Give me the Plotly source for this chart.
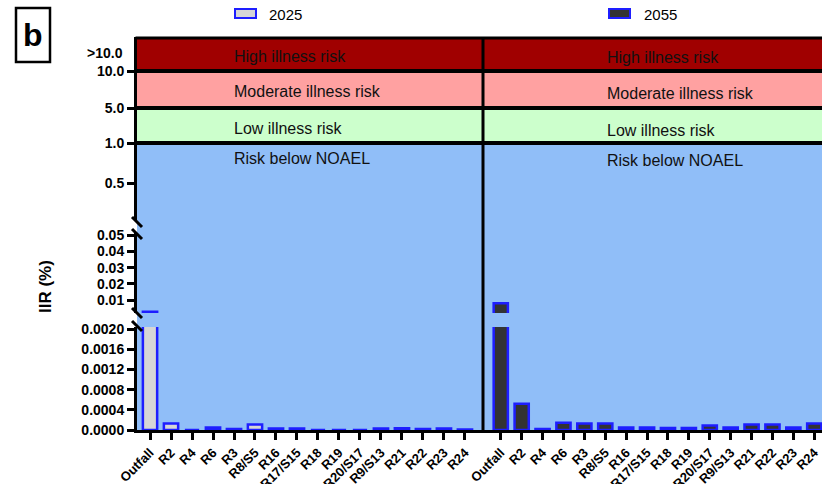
import plotly.graph_objects as go

# ---------------- data ----------------
categories = ["Outfall", "R2", "R4", "R6", "R3", "R8/S5", "R16", "R17/S15", "R18",
              "R19", "R20/S17", "R9/S13", "R21", "R22", "R23", "R24"]
iir_2025 = [0.0028, 0.00013, 0.0, 0.00005, 0.00002, 0.00011, 0.00003, 0.00003, 0.0,
            0.0, 0.0, 0.00003, 0.000035, 0.00002, 0.00003, 0.00001]
iir_2055 = [0.0080, 0.00052, 0.00002, 0.000145, 0.00013, 0.00013, 0.00005, 0.00005,
            0.00004, 0.00004, 0.00009, 0.00005, 0.00011, 0.00011, 0.00005, 0.00013]
series_names = ["2025", "2055"]

ticks_low = [0.0, 0.0004, 0.0008, 0.0012, 0.0016, 0.0020]
ticks_mid = [0.01, 0.02, 0.03, 0.04, 0.05]
ticks_upper = [0.5, 1.0]
band_labels = ["High illness risk", "Moderate illness risk", "Low illness risk", "Risk below NOAEL"]

# ---------------- geometry (pixels) ----------------
W, H = 822, 484
L, R, T, B = 137, 0, 37, 54
PW, PH = W - L - R, H - T - B
BOT = H - B  # 430


def fx(px):
    return (px - L) / PW


def fy(py):
    return (BOT - py) / PH


FONT = "Liberation Sans, Arial, sans-serif"
BLUE_EDGE = "#1E1EFF"
FILL_2025 = "#D6D6D6"
FILL_2055 = "#333333"
BG_BLUE = "#90BEF8"
BG_GREEN = "#CCFFCC"
BG_PINK = "#FFA1A1"
BG_RED = "#A00000"

EPS = 1e-9
# segment A: 0 .. ~0.00204 (pixels 430 -> 327)
scaleA = (BOT - 329) / 0.002
rangeA = [0, (BOT - 327) / scaleA]
# segment B: pixels 313 -> 233, 0.01 at y=300
scaleB = 1620.0
rangeB = [0.01 - (313 - 300) / scaleB, 0.01 + (300 - 233) / scaleB]
# segment C: pixels 221 -> 143, 1.0 at 143, 80 px per unit
rangeC = [1.0 - (221 - 143) / 80.0, 1.0 + EPS]

fig = go.Figure()

panels = [("x", iir_2025, FILL_2025, series_names[0]), ("x2", iir_2055, FILL_2055, series_names[1])]
for xa, vals, fill, name in panels:
    for ya in ["y", "y2"]:
        fig.add_trace(go.Bar(
            x=categories, y=vals, xaxis=xa, yaxis=ya, name=name,
            width=0.68, showlegend=False, hoverinfo="skip",
            marker=dict(color=fill, line=dict(color=BLUE_EDGE, width=2.5)),
        ))

# empty traces so that the upper axis segments are drawn
for ya in ["y3", "y4", "y5", "y6"]:
    fig.add_trace(go.Scatter(x=[], y=[], xaxis="x", yaxis=ya, showlegend=False,
                             hoverinfo="skip", mode="markers"))

tickfont = dict(family=FONT, size=14, color="black", weight="bold")
axis_common = dict(showline=True, linecolor="black", linewidth=3, ticks="outside",
                   ticklen=7, tickwidth=3, tickcolor="black", showgrid=False,
                   zeroline=False, fixedrange=True)

xcommon = dict(axis_common, type="category", categoryorder="array", categoryarray=categories,
               tickangle=-45, tickfont=dict(family=FONT, size=13, color="black", weight="bold"),
               anchor="y")

split = fx(483)
fig.update_layout(
    width=W, height=H,
    margin=dict(l=L, r=R, t=T, b=B, autoexpand=False),
    paper_bgcolor="white", plot_bgcolor="rgba(0,0,0,0)",
    barmode="overlay", showlegend=False,
    xaxis=dict(xcommon, domain=[0, split], range=[-0.62, 15.86]),
    xaxis2=dict(xcommon, domain=[split, 1], range=[-0.85, 15.37]),
    yaxis=dict(axis_common, domain=[0, fy(327)], range=rangeA, anchor="x",
               tickvals=ticks_low, tickformat=".4f", tickfont=tickfont),
    yaxis2=dict(axis_common, domain=[fy(313), fy(233)], range=rangeB, anchor="x",
                tickvals=ticks_mid, tickformat=".2f", tickfont=tickfont),
    yaxis3=dict(axis_common, domain=[fy(221), fy(143)], range=rangeC, anchor="x",
                tickvals=ticks_upper, tickformat=".1f", tickfont=tickfont),
    yaxis4=dict(axis_common, domain=[fy(143), fy(108)], range=[1, 5 + EPS], anchor="x",
                tickvals=[5.0], tickformat=".1f", tickfont=tickfont),
    yaxis5=dict(axis_common, domain=[fy(108), fy(71)], range=[5, 10 + EPS], anchor="x",
                tickvals=[10.0], tickformat=".1f", tickfont=tickfont),
    yaxis6=dict(axis_common, domain=[fy(71), 1], range=[10, 15], anchor="x",
                tickvals=[], ticks=""),
)

shapes = []
# background risk bands
for y0, y1, col in [(BOT, 143, BG_BLUE), (143, 108, BG_GREEN), (108, 71, BG_PINK), (71, T, BG_RED)]:
    shapes.append(dict(type="rect", xref="paper", yref="paper", x0=0, x1=1, y0=fy(y0), y1=fy(y1),
                       fillcolor=col, line=dict(width=0), layer="below"))
# band separators and border
for yy, w in [(143, 4), (108, 4), (71, 4), (T + 1, 3)]:
    shapes.append(dict(type="line", xref="paper", yref="paper", x0=fx(L - 1.5), x1=1, y0=fy(yy), y1=fy(yy),
                       line=dict(color="black", width=w)))
# panel divider
shapes.append(dict(type="line", xref="paper", yref="paper", x0=split, x1=split, y0=fy(BOT), y1=fy(T),
                   line=dict(color="black", width=3)))
# axis break marks
for (xa0, ya0, xa1, ya1) in [(132, 217, 142, 227), (132, 229, 142, 239),
                             (132, 308, 142, 318), (132, 321, 142, 331)]:
    shapes.append(dict(type="line", xref="paper", yref="paper", x0=fx(xa0), y0=fy(ya0),
                       x1=fx(xa1), y1=fy(ya1), line=dict(color="black", width=3)))
# panel label box
shapes.append(dict(type="rect", xref="paper", yref="paper", x0=fx(16), x1=fx(50), y0=fy(8), y1=fy(62),
                   line=dict(color="black", width=2.5), fillcolor="white"))
# legend symbols
for x0, fill in [(235, FILL_2025), (609, FILL_2055)]:
    shapes.append(dict(type="rect", xref="paper", yref="paper", x0=fx(x0), x1=fx(x0 + 21),
                       y0=fy(9), y1=fy(18), fillcolor=fill, line=dict(color=BLUE_EDGE, width=2)))

annotations = []
band_y_left = [56, 91, 128, 158]
band_y_right = [57, 93, 130, 160]
for lab, yl, yr in zip(band_labels, band_y_left, band_y_right):
    for xpix, ypix in [(232, yl), (605, yr)]:
        annotations.append(dict(text=lab, xref="paper", yref="paper", x=fx(xpix), y=fy(ypix),
                                xanchor="left", yanchor="middle", showarrow=False,
                                font=dict(family=FONT, size=16, color="#111111")))
annotations.append(dict(text=">10.0", xref="paper", yref="paper", x=fx(125), y=fy(53),
                        xanchor="right", yanchor="middle", showarrow=False, font=tickfont))
annotations.append(dict(text="IIR (%)", xref="paper", yref="paper", x=fx(45), y=fy(287),
                        xanchor="center", yanchor="middle", textangle=-90, showarrow=False,
                        font=dict(family=FONT, size=17, color="black", weight="bold")))
annotations.append(dict(text="b", xref="paper", yref="paper", x=fx(33), y=fy(35),
                        xanchor="center", yanchor="middle", showarrow=False,
                        font=dict(family=FONT, size=32, color="black", weight="bold")))
for xpix, name in [(267, series_names[0]), (642, series_names[1])]:
    annotations.append(dict(text=name, xref="paper", yref="paper", x=fx(xpix), y=fy(14),
                            xanchor="left", yanchor="middle", showarrow=False,
                            font=dict(family=FONT, size=15, color="black")))

fig.update_layout(shapes=shapes, annotations=annotations)
fig.write_html("out.html")
